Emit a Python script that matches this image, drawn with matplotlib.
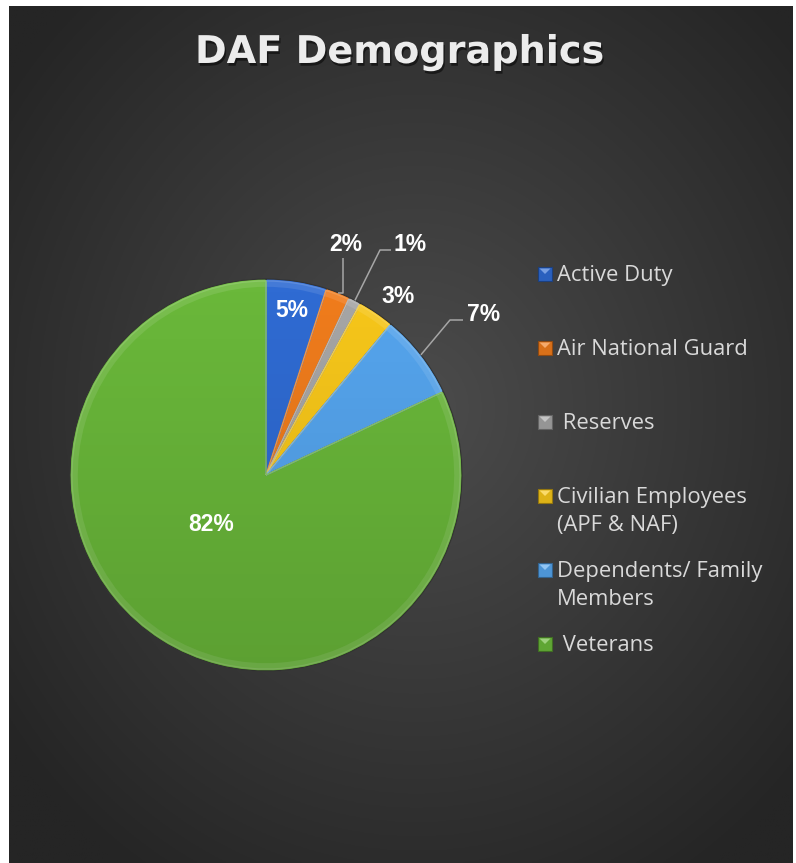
import numpy as np
import matplotlib
matplotlib.use("Agg")
import matplotlib.pyplot as plt
from matplotlib.patches import Rectangle, Wedge, Polygon, Circle
import matplotlib.patheffects as pe

# ---- data ----
categories = ["Active Duty", "Air National Guard", " Reserves",
              "Civilian Employees\n(APF & NAF)", "Dependents/ Family\nMembers", " Veterans"]
values = [5, 2, 1, 3, 7, 82]
pct_labels = ["5%", "2%", "1%", "3%", "7%", "82%"]
colors = ["#2f6bd3", "#f07c1c", "#a6a6a6", "#f7c71a", "#55a5ee", "#6ab83a"]
title = "DAF Demographics"

W, H = 796, 863
fig = plt.figure(figsize=(W / 100, H / 100), dpi=100)
fig.patch.set_facecolor("white")

# ---- background panel with radial gradient ----
px0, py0, px1, py1 = 9, 6, 793, 863
bg = fig.add_axes([px0 / W, 1 - py1 / H, (px1 - px0) / W, (py1 - py0) / H])
bg.set_axis_off()
yy, xx = np.mgrid[0:400, 0:400]
xn = xx / 399.0
yn = yy / 399.0
d = np.sqrt(((xn - 0.52) / 0.65) ** 2 + ((yn - 0.47) / 0.65) ** 2)
d = np.clip(d, 0, 1)
lo, hi = 0x25 / 255, 0x4c / 255
v = hi - (hi - lo) * d ** 1.0
img = np.dstack([v, v, v])
bg.imshow(img, extent=[0, 1, 0, 1], origin="upper", aspect="auto")
bg.set_xlim(0, 1)
bg.set_ylim(0, 1)

# ---- pie ----
cx, cy, R = 266, 475, 196
ax = fig.add_axes([(cx - R) / W, 1 - (cy + R) / H, 2 * R / W, 2 * R / H])
ax.patch.set_alpha(0)

wedges, _ = ax.pie(values, colors=colors, startangle=90, counterclock=False,
                   radius=1.0, center=(0, 0),
                   wedgeprops=dict(linewidth=0.8, edgecolor="#333333"))
ax.set_xlim(-1, 1)
ax.set_ylim(-1, 1)
ax.set_aspect("equal")
ax.set_axis_off()
for w in wedges:
    w.set_clip_on(False)

def lighten(c, f):
    r, g, b = matplotlib.colors.to_rgb(c)
    return (r + (1 - r) * f, g + (1 - g) * f, b + (1 - b) * f)

def darken(c, f):
    r, g, b = matplotlib.colors.to_rgb(c)
    return (r * (1 - f), g * (1 - f), b * (1 - f))

# subtle bevel effect
for w, c in zip(wedges, colors):
    t1, t2 = w.theta1, w.theta2
    rim = Wedge((0, 0), 0.995, t1, t2, width=0.035, facecolor=lighten(c, 0.10),
                edgecolor="none", zorder=w.get_zorder() + 0.1, clip_on=False)
    ax.add_patch(rim)
    edge = Wedge((0, 0), 0.99, t1, t2, facecolor="none", clip_on=False,
                 edgecolor=lighten(c, 0.22), linewidth=1.0, zorder=w.get_zorder() + 0.2)
    ax.add_patch(edge)

# vertical shading over the pie (lighter top, darker bottom)
gy = np.linspace(0, 1, 256)[:, None] * np.ones((1, 4))
shade = np.zeros((256, 4, 4))
shade[..., 3] = 0.13 * gy
circ = Circle((0, 0), 1.0, transform=ax.transData)
im = ax.imshow(shade, extent=[-1, 1, -1, 1], origin="upper", zorder=1.5,
               aspect="auto", interpolation="bilinear")
im.set_clip_path(circ)
ax.set_xlim(-1, 1)
ax.set_ylim(-1, 1)

# ---- percentage labels ----
mids = [np.deg2rad((w.theta1 + w.theta2) / 2) for w in wedges]
txt_kw = dict(color="white", fontsize=16.5, fontweight="bold", ha="center", va="center",
              family="Liberation Sans", zorder=10, clip_on=False)
a0 = mids[0]
ax.text(0.85 * np.cos(a0), 0.85 * np.sin(a0), pct_labels[0], **txt_kw)
a5 = np.deg2rad(-138)
ax.text(0.38 * np.cos(a5), 0.38 * np.sin(a5), pct_labels[5], **txt_kw)

def p2d(x, y):
    return ((x - cx) / R, (cy - y) / R)

for idx, (x, y) in zip([1, 2, 3, 4], [(346, 244), (410, 244), (398, 296), (484, 314)]):
    lx, ly = p2d(x, y)
    ax.text(lx, ly, pct_labels[idx], **txt_kw)

lead_kw = dict(color="#a6a6a6", lw=1.1, zorder=9, solid_capstyle="butt", clip_on=False)
# 2%
e = (np.cos(mids[1]), np.sin(mids[1]))
p = p2d(343, 258)
ax.plot([p[0], p[0], e[0]], [p[1], e[1], e[1]], **lead_kw)
# 1%
e = (np.cos(mids[2]), np.sin(mids[2]))
pa, pb = p2d(391, 250), p2d(380, 250)
ax.plot([pa[0], pb[0], e[0]], [pa[1], pb[1], e[1]], **lead_kw)
# 7%
e = (np.cos(mids[4]), np.sin(mids[4]))
pa, pb = p2d(463, 320), p2d(450, 320)
ax.plot([pa[0], pb[0], e[0]], [pa[1], pb[1], e[1]], **lead_kw)

# ---- legend (manual) ----
for i, (lab, c) in enumerate(zip(categories, colors)):
    ytop = 274 + 74 * i
    mx, ms = 538, 14
    x0f, y0f = mx / W, 1 - (ytop + ms / 2) / H
    rect = Rectangle((x0f, y0f), ms / W, ms / H,
                     transform=fig.transFigure, facecolor=darken(c, 0.1),
                     edgecolor=darken(c, 0.4), linewidth=0.8)
    fig.patches.append(rect)
    tri = Polygon([(x0f + 1.5 / W, y0f + (ms - 1.5) / H), (x0f + (ms - 1.5) / W, y0f + (ms - 1.5) / H),
                   (x0f + ms / 2 / W, y0f + ms / 2 / H)], closed=True,
                  transform=fig.transFigure, facecolor=lighten(c, 0.35), edgecolor="none")
    fig.patches.append(tri)
    fig.text(557 / W, 1 - (ytop - 9) / H, lab, color="#d9d9d9", fontsize=15.8,
             family="Open Sans", ha="left", va="top", linespacing=1.42)

# ---- title ----
fig.text(400 / W, 1 - 53 / H, title, color="#ececec", fontsize=27.5, fontweight="bold",
         family="DejaVu Sans", ha="center", va="center",
         path_effects=[pe.withSimplePatchShadow(offset=(1, -2), shadow_rgbFace="black", alpha=0.5)])

fig.savefig("out.png", dpi=100, facecolor=fig.get_facecolor())
